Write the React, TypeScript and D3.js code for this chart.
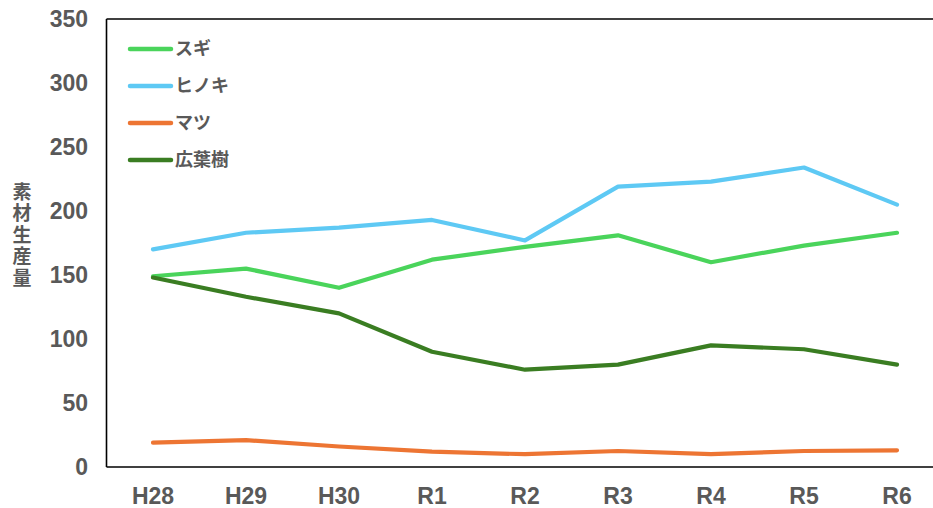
import React from "react";
import * as d3 from "d3";

const categories = ["H28", "H29", "H30", "R1", "R2", "R3", "R4", "R5", "R6"];
const sugi = [149, 155, 140, 162, 172, 181, 160, 173, 183];
const hinoki = [170, 183, 187, 193, 177, 219, 223, 234, 205];
const matsu = [19, 21, 16, 12, 10, 12.5, 10, 12.5, 13];
const kouyouju = [148, 133, 120, 90, 76, 80, 95, 92, 80];
const yTicks = [0, 50, 100, 150, 200, 250, 300, 350];

const seriesNames = ["スギ", "ヒノキ", "マツ", "広葉樹"];
const seriesValues = [sugi, hinoki, matsu, kouyouju];
const seriesColors = ["#4ad45b", "#5ec9f4", "#ed7533", "#3a7d22"];
const yTitle = "素材生産量";

const W = 933;
const H = 508;
const plotLeft = 106.5;
const plotTop = 19;
const plotBottom = 467;
const step = 93;

const numFont = "'Liberation Sans Narrow', 'Liberation Sans', Arial, sans-serif";
const jpFont = "'Noto Sans CJK JP', 'Noto Sans', sans-serif";
const textColor = "#595959";

export default function App() {
  const x = d3
    .scaleBand<string>()
    .domain(categories)
    .range([plotLeft, plotLeft + step * categories.length])
    .padding(0);
  const cx = (c: string) => (x(c) ?? 0) + x.bandwidth() / 2;
  const y = d3.scaleLinear().domain([0, 350]).range([plotBottom, plotTop]);

  const line = d3
    .line<number>()
    .x((_, i) => cx(categories[i]))
    .y((d) => y(d));

  return (
    <div style={{ position: "absolute", left: 0, top: 0 }}>
      <svg width={W} height={H} style={{ display: "block", background: "#fff" }}>
        {/* plot frame */}
        <line x1={plotLeft} y1={plotTop} x2={W} y2={plotTop} stroke="#000" strokeWidth={1.6} />
        <line x1={plotLeft} y1={plotTop} x2={plotLeft} y2={plotBottom} stroke="#000" strokeWidth={1.6} />
        <line x1={plotLeft} y1={plotBottom} x2={W} y2={plotBottom} stroke="#000" strokeWidth={1.6} />

        {/* y ticks */}
        {yTicks.map((t) => (
          <text
            key={t}
            x={88}
            y={y(t)}
            dy="0.36em"
            textAnchor="end"
            fontFamily={numFont}
            fontWeight="bold"
            fontSize={23}
            fill={textColor}
          >
            {t}
          </text>
        ))}

        {/* x ticks */}
        {categories.map((c) => (
          <text
            key={c}
            x={cx(c)}
            y={496}
            dy="0.36em"
            textAnchor="middle"
            fontFamily={numFont}
            fontWeight="bold"
            fontSize={23}
            fill={textColor}
          >
            {c}
          </text>
        ))}

        {/* y axis title (vertical) */}
        <text
          x={22}
          y={182}
          style={{ writingMode: "vertical-rl", letterSpacing: "2.5px" } as React.CSSProperties}
          fontFamily={jpFont}
          fontWeight="bold"
          fontSize={19}
          fill={textColor}
        >
          {yTitle}
        </text>

        {/* series lines */}
        {seriesValues.map((vals, si) => (
          <path
            key={si}
            d={line(vals) ?? ""}
            fill="none"
            stroke={seriesColors[si]}
            strokeWidth={4.2}
            strokeLinejoin="round"
            strokeLinecap="round"
          />
        ))}

        {/* legend */}
        {seriesNames.map((name, i) => {
          const ly = 49 + i * 37;
          return (
            <g key={name}>
              <line x1={130} y1={ly} x2={171} y2={ly} stroke={seriesColors[i]} strokeWidth={4.5} strokeLinecap="round" />
              <text
                x={175}
                y={ly}
                dy="0.36em"
                fontFamily={jpFont}
                fontWeight="bold"
                fontSize={18}
                fill={textColor}
              >
                {name}
              </text>
            </g>
          );
        })}
      </svg>
    </div>
  );
}
